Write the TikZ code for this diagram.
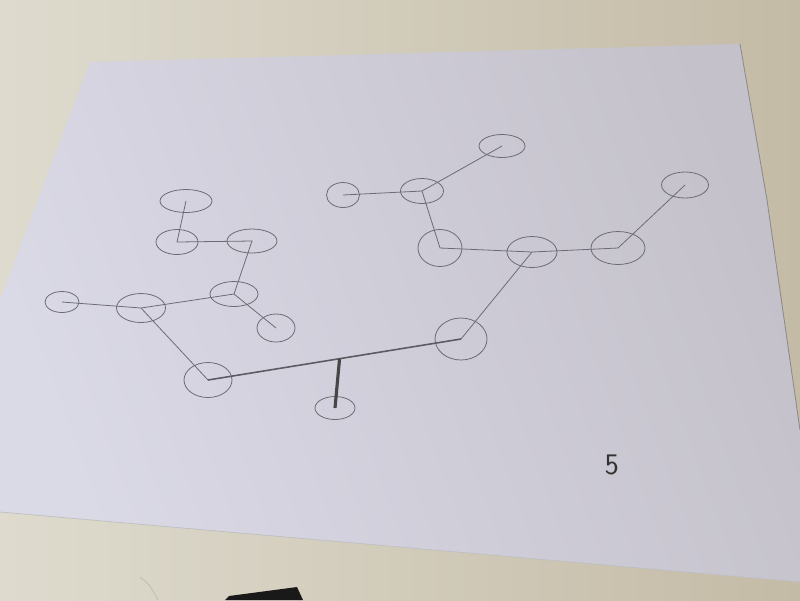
\documentclass[tikz,border=0pt]{standalone}
\usepackage{tikz}
\usepackage{xcolor}
\usetikzlibrary{shapes.geometric,positioning}
\definecolor{tablelt}{RGB}{222,219,206}
\definecolor{tabledk}{RGB}{196,187,166}
\definecolor{paperlt}{RGB}{218,217,230}
\definecolor{paperdk}{RGB}{196,193,202}
\definecolor{pencil}{RGB}{108,107,116}
\tikzset{%
	vtx/.style   = {draw=pencil, ellipse, inner sep=0pt, line width=0.45pt},
	edge/.style  = {draw=pencil, line width=0.45pt},
	heavy/.style = {draw=pencil!85!black, line width=0.9pt},
	stem/.style  = {draw=black!72, line width=1.8pt},
}

\begin{document}
\begin{tikzpicture}[x=0.02cm,y=-0.02cm]
	\useasboundingbox (0,0) rectangle (800,600);
	% table and sheet
	\shade[left color=tablelt, right color=tabledk] (0,0) rectangle (800,600);
	\shade[left color=paperlt, right color=paperdk, shading angle=110]
		(90,62) -- (740,44) -- (767,200) -- (800,430) -- (800,582) -- (0,512) -- (0,300) -- cycle;
	\draw[black!45, line width=0.5pt] (740,44) -- (767,200) -- (800,430);
	\draw[black!25, line width=0.4pt] (0,512) -- (800,582);
	\fill[black!90] (225,600) -- (229,596) -- (297,587) -- (303,600) -- cycle;
	\draw[black!30, line width=0.3pt] (140,577) .. controls (150,585) .. (158,600);
	
	% left group
	\node[vtx, minimum width=1.04cm, minimum height=0.46cm] (a) at (186,201) {};
	\node[vtx, minimum width=0.84cm, minimum height=0.50cm] (b) at (177,242) {};
	\node[vtx, minimum width=1.00cm, minimum height=0.48cm] (c) at (252,241) {};
	\node[vtx, minimum width=0.68cm, minimum height=0.42cm] (d) at (62,302) {};
	\node[vtx, minimum width=0.98cm, minimum height=0.58cm] (e) at (141,308) {};
	\node[vtx, minimum width=0.96cm, minimum height=0.50cm] (f) at (234,294) {};
	\node[vtx, minimum width=0.76cm, minimum height=0.56cm] (g) at (276,328) {};
	\node[vtx, minimum width=0.96cm, minimum height=0.70cm] (h) at (208,380) {};
	\node[vtx, minimum width=0.80cm, minimum height=0.46cm] (i) at (335,408) {};
	% right group
	\node[vtx, minimum width=1.04cm, minimum height=0.84cm] (j) at (461,339) {};
	\node[vtx, minimum width=0.66cm, minimum height=0.50cm] (k) at (343,195) {};
	\node[vtx, minimum width=0.86cm, minimum height=0.50cm] (l) at (422,191) {};
	\node[vtx, minimum width=0.92cm, minimum height=0.46cm] (m) at (502,146) {};
	\node[vtx, minimum width=0.88cm, minimum height=0.74cm] (n) at (440,248) {};
	\node[vtx, minimum width=1.00cm, minimum height=0.62cm] (o) at (532,252) {};
	\node[vtx, minimum width=1.08cm, minimum height=0.66cm] (p) at (618,248) {};
	\node[vtx, minimum width=0.94cm, minimum height=0.52cm] (q) at (685,185) {};
	
	\draw[edge] (a.center) -- (b.center) -- (c.center) -- (f.center) -- (g.center);
	\draw[edge] (d.center) -- (e.center) -- (f.center);
	\draw[edge] (e.center) -- (h.center);
	\draw[edge] (k.center) -- (l.center) -- (m.center);
	\draw[edge] (l.center) -- (n.center) -- (o.center) -- (p.center) -- (q.center);
	\draw[edge] (o.center) -- (j.center);
	\draw[heavy] (h.center) -- coordinate[pos=0.52] (bar) (j.center);
	\draw[stem] (bar) -- (i.center);
	
	\node[text=black!80] (five) at (612,465) {\fontsize{17}{20}\selectfont\sffamily 5};
\end{tikzpicture}
\end{document}
